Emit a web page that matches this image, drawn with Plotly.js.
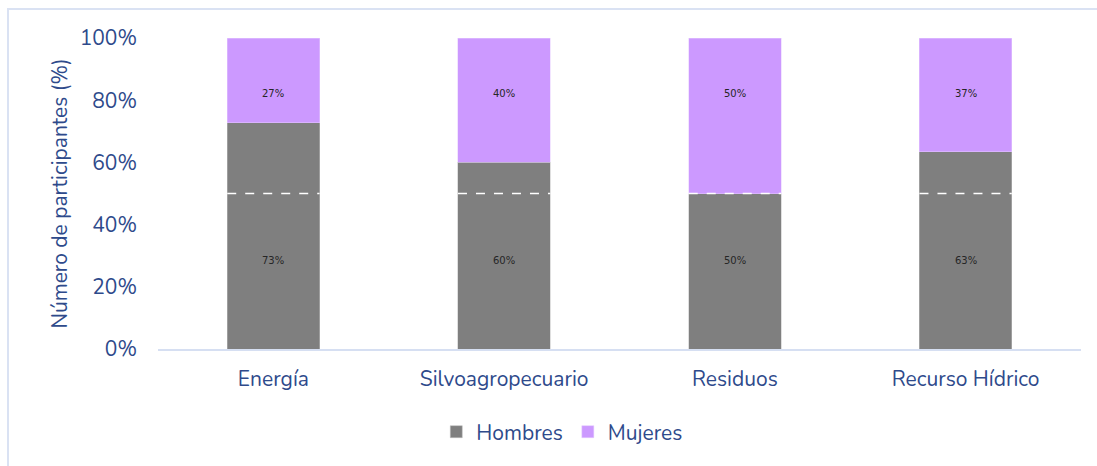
<!DOCTYPE html>
<html>
<head>
<meta charset="utf-8">
<script src="https://cdn.plot.ly/plotly-3.0.1.min.js"></script>
<style>
  html, body { margin: 0; padding: 0; background: #fff; }
  #wrap { position: relative; width: 1097px; height: 466px; overflow: hidden; }
  #chart { position: absolute; left: 0; top: 0; width: 1097px; height: 466px; }
  #frame { position: absolute; left: 7px; top: 8px; width: 1200px; height: 600px;
           border-left: 2px solid #DAE2F3; border-top: 2px solid #DAE2F3; pointer-events: none; }
</style>
</head>
<body>
<div id="wrap">
  <div id="chart"></div>
  <div id="frame"></div>
</div>
<script>
const categories = ["Energía", "Silvoagropecuario", "Residuos", "Recurso Hídrico"];
const hombres = [72.7, 60, 50, 63.5];
const mujeres = [27.3, 40, 50, 36.5];
const hombresLabels = ["73%", "60%", "50%", "63%"];
const mujeresLabels = ["27%", "40%", "50%", "37%"];
const referenceLine = 50;

const textColor = "#2E4A8B";
const fontFam = "Nunito, 'Noto Sans', 'Open Sans', sans-serif";

const traces = [
  {
    type: "bar", name: "Hombres", x: categories, y: hombres,
    marker: { color: "#7F7F7F", line: { color: "#BFBFBF", width: 0.5 } },
    hoverinfo: "skip"
  },
  {
    type: "bar", name: "Mujeres", x: categories, y: mujeres,
    marker: { color: "#CC99FF", line: { color: "#E5CCFF", width: 0.5 } },
    hoverinfo: "skip"
  }
];

const labelFont = { family: "'DejaVu Sans', sans-serif", size: 10, color: "#262626" };
const annotations = [];
categories.forEach((c, i) => {
  annotations.push({ x: c, y: 28.3, xref: "x", yref: "y", text: hombresLabels[i], showarrow: false, font: labelFont });
  annotations.push({ x: c, y: 82.3, xref: "x", yref: "y", text: mujeresLabels[i], showarrow: false, font: labelFont });
});

const shapes = categories.map((c, i) => ({
  type: "line", xref: "x", yref: "y", x0: i - 0.2, x1: i + 0.2, y0: referenceLine, y1: referenceLine,
  line: { color: "#FFFFFF", width: 1.3, dash: "dash" }, layer: "above"
}));

const layout = {
  width: 1097, height: 466,
  margin: { l: 158, r: 16, t: 38, b: 117 },
  paper_bgcolor: "rgba(0,0,0,0)", plot_bgcolor: "rgba(0,0,0,0)",
  barmode: "stack", bargap: 0.6,
  font: { family: fontFam, color: textColor },
  showlegend: true,
  legend: { orientation: "h", x: 0.438, xanchor: "center", y: -0.267, yanchor: "middle",
    font: { size: 21, color: textColor }, traceorder: "normal", itemwidth: 30 },
  xaxis: {
    type: "category", showgrid: false, zeroline: false,
    showline: true, linecolor: "#D6DFF2", linewidth: 2,
    ticks: "", tickfont: { size: 21, color: textColor }, ticklabelstandoff: 10
  },
  yaxis: {
    range: [0, 100], dtick: 20, tick0: 0, ticksuffix: "%",
    showgrid: false, zeroline: false, showline: false, ticks: "",
    tickfont: { size: 21, color: textColor }, ticklabelstandoff: 20,
    title: { text: "Número de participantes (%)", font: { size: 21, color: textColor }, standoff: 6 }
  },
  annotations: annotations,
  shapes: shapes
};

Plotly.newPlot("chart", traces, layout, { displayModeBar: false, staticPlot: true });
</script>
</body>
</html>
